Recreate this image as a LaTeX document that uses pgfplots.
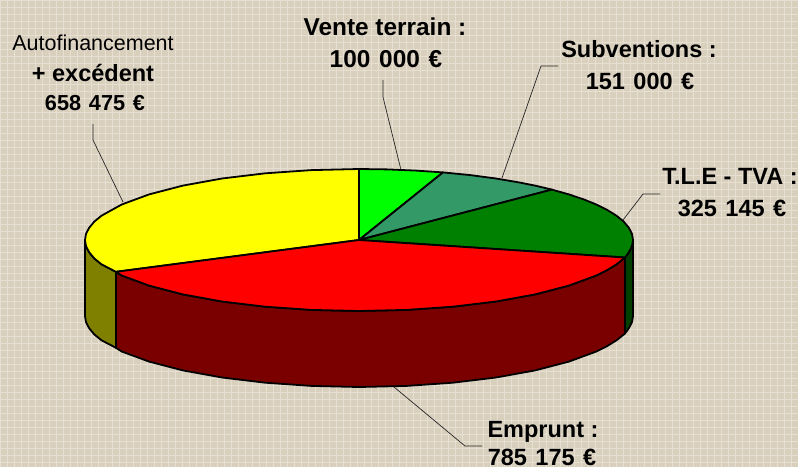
\documentclass[border=0pt]{standalone}
\usepackage{pgfplots}
\pgfplotsset{compat=1.18}
\usepackage{fontspec}
\setmainfont{Liberation Sans}
\definecolor{bgbase}{HTML}{D8CFBD}
\definecolor{bgline}{HTML}{E6DFD2}
\definecolor{wedgeA}{HTML}{FFFF00}
\definecolor{wedgeB}{HTML}{FF0000}
\definecolor{wedgeC}{HTML}{008000}
\definecolor{wedgeD}{HTML}{339966}
\definecolor{wedgeE}{HTML}{00FF00}
\definecolor{wallA}{HTML}{808000}
\definecolor{wallB}{HTML}{7A0000}
\definecolor{wallC}{HTML}{004000}
\newcommand{\bt}[1]{{\fontsize{23.5}{28}\selectfont\bfseries #1}}
\newcommand{\btv}[1]{{\fontsize{24.4}{28}\selectfont\bfseries #1}}
\newcommand{\bts}[1]{{\fontsize{21.7}{26}\selectfont\bfseries #1}}
\newcommand{\gap}{\hspace{0.36em}}
\begin{document}
\begin{tikzpicture}
\useasboundingbox (0,0) rectangle (798pt,467pt);
\clip (0,0) rectangle (798pt,467pt);
\begin{axis}[
  at={(0,0)}, anchor=south west,
  scale only axis, width=798pt, height=467pt,
  xmin=0, xmax=798, ymin=0, ymax=467, y dir=reverse,
  axis line style={draw=none}, tick style={draw=none},
  xticklabels={}, yticklabels={},
  xtick distance=7, ytick distance=7,
  grid=major, grid style={bgline, line width=1pt},
  axis background/.style={fill=bgbase},
  every axis plot/.append style={line join=round},
  every node/.append style={inner sep=0pt},
]
% side walls
\addplot[fill=wallA, draw=black, line width=1.8pt] coordinates {
 (116,271.8)(101.5,264.3)(94.3,258.4)(89.2,252.3)(86,246.2)(85,240)
 (85,316)(86,322.2)(89.2,328.3)(94.3,334.4)(101.5,340.3)(116,347.8)} --cycle;
\addplot[fill=wallC, draw=black, line width=1.8pt] coordinates {
 (633,240)(632,246.2)(628.8,252.3)(625,257.5)
 (625,333.5)(628.8,328.3)(632,322.2)(633,316)} --cycle;
\addplot[fill=wallB, draw=black, line width=1.8pt] coordinates {
 (625,257.5)(616.5,264.3)(607.3,270)(596.3,275.5)(568.9,285.6)(535.1,294.4)(496,301.5)(452.7,306.7)(406.6,309.9)
 (359,311)(311.4,309.9)(265.3,306.7)(222,301.5)(182.9,294.4)(149.1,285.6)(121.7,275.5)(116,271.8)
 (116,347.8)(121.7,351.5)(149.1,361.6)(182.9,370.4)(222,377.5)(265.3,382.7)(311.4,385.9)(359,387)
 (406.6,385.9)(452.7,382.7)(496,377.5)(535.1,370.4)(568.9,361.6)(596.3,351.5)(607.3,346)(616.5,340.3)(625,333.5)} --cycle;
% top slices
\addplot[fill=wedgeA, draw=black, line width=1.8pt] coordinates {
 (359,240)(116,271.8)(101.5,264.3)(94.3,258.4)(89.2,252.3)(86,246.2)(85,240)(86,233.8)(89.2,227.7)(94.3,221.6)
 (101.5,215.7)(121.7,204.5)(149.1,194.4)(182.9,185.6)(222,178.5)(265.3,173.3)(311.4,170.1)(359,169)} --cycle;
\addplot[fill=wedgeE, draw=black, line width=1.8pt] coordinates {
 (359,240)(359,169)(387.6,169.4)(416,170.6)(443,172.4)} --cycle;
\addplot[fill=wedgeD, draw=black, line width=1.8pt] coordinates {
 (359,240)(443,172.4)(470.4,175.1)(496,178.5)(520.1,182.6)(535.1,185.6)(551.9,189.6)} --cycle;
\addplot[fill=wedgeC, draw=black, line width=1.8pt] coordinates {
 (359,240)(551.9,189.6)(568.9,194.4)(583.5,199.3)(596.3,204.5)(607.3,210)(616.5,215.7)(623.7,221.6)(628.8,227.7)
 (632,233.8)(633,240)(632,246.2)(628.8,252.3)(625,257.5)} --cycle;
\addplot[fill=wedgeB, draw=black, line width=1.8pt] coordinates {
 (359,240)(625,257.5)(616.5,264.3)(607.3,270)(596.3,275.5)(568.9,285.6)(535.1,294.4)(496,301.5)(452.7,306.7)(406.6,309.9)
 (359,311)(311.4,309.9)(265.3,306.7)(222,301.5)(182.9,294.4)(149.1,285.6)(121.7,275.5)(116,271.8)} --cycle;
% leader lines
\addplot[black!85, line width=0.7pt] coordinates {(383,80)(383,97)(401,170)};
\addplot[black!85, line width=0.7pt] coordinates {(558,66)(541,66)(502,178)};
\addplot[black!85, line width=0.7pt] coordinates {(660,194)(643,194)(623,220)};
\addplot[black!85, line width=0.7pt] coordinates {(394,387)(465,446)(482,446)};
\addplot[black!85, line width=0.7pt] coordinates {(93,124)(93,140)(123,202)};
% labels
\node[anchor=base, inner sep=0pt] at (axis cs:385,35) {\btv{Vente terrain :}};
\node[anchor=base, inner sep=0pt] at (axis cs:386,67) {\btv{100\gap 000\gap €}};
\node[anchor=base, inner sep=0pt] at (axis cs:639,57) {\bt{Subventions :}};
\node[anchor=base, inner sep=0pt] at (axis cs:640,89) {\bt{151\gap 000\gap €}};
\node[anchor=base, inner sep=0pt] at (axis cs:730,184) {\bt{T.L.E - TVA :}};
\node[anchor=base, inner sep=0pt] at (axis cs:732,216) {\bt{325\gap 145\gap €}};
\node[anchor=base, inner sep=0pt] at (axis cs:543,437) {\bt{Emprunt :}};
\node[anchor=base, inner sep=0pt] at (axis cs:542,465.5) {\bt{785\gap 175\gap €}};
\node[anchor=base, inner sep=0pt] at (axis cs:93,50) {\fontsize{21.5}{26}\selectfont Autofinancement};
\node[anchor=base, inner sep=0pt] at (axis cs:93,81.5) {\bt{+ excédent}};
\node[anchor=base, inner sep=0pt] at (axis cs:95,110.5) {\bts{658\gap 475\gap €}};
\end{axis}
\end{tikzpicture}
\end{document}
